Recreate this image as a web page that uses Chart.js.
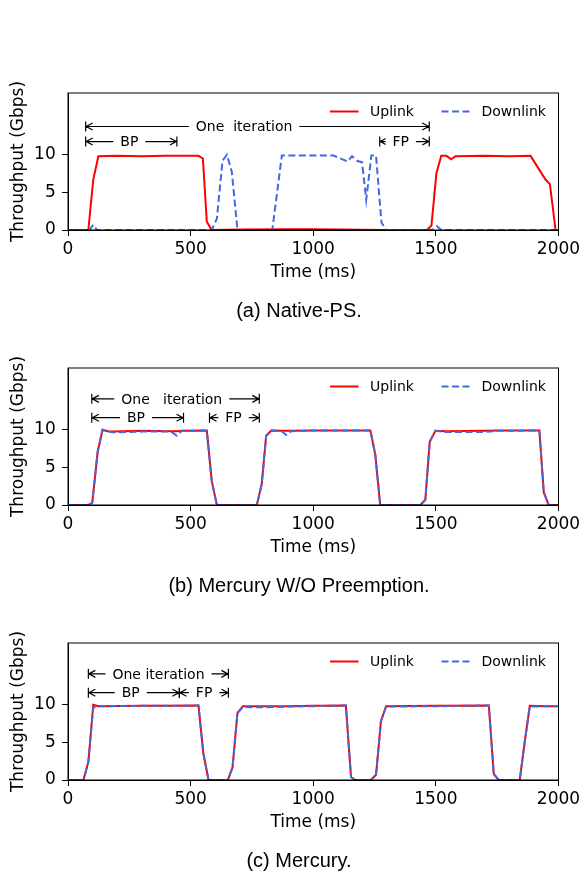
<!DOCTYPE html>
<html>
<head>
<meta charset="utf-8">
<script src="https://cdn.jsdelivr.net/npm/chart.js@4.4.1/dist/chart.umd.min.js"></script>
<style>
  body { margin: 0; background: #fff; width: 582px; height: 873px; position: relative; overflow: hidden; }
  canvas { position: absolute; left: 0; }
  .cap { position: absolute; left: 8px; width: 582px; text-align: center; font: 20px "Liberation Sans", Arial, sans-serif; color: #000; line-height: 24px; }
</style>
</head>
<body>
<canvas id="chartA" width="582" height="290" style="top:0px"></canvas>
<canvas id="chartB" width="582" height="290" style="top:275px"></canvas>
<canvas id="chartC" width="582" height="290" style="top:550px"></canvas>
<div class="cap" style="top:298px">(a) Native-PS.</div>
<div class="cap" style="top:573px">(b) Mercury W/O Preemption.</div>
<div class="cap" style="top:848px">(c) Mercury.</div>
<script>
// (a) Native-PS
const nativeUpT = [0, 83, 103, 124, 200, 300, 400, 532, 550, 566, 586, 700, 900, 1000, 1100, 1300, 1464, 1482, 1502, 1522, 1543, 1562, 1580, 1700, 1800, 1886, 1947, 1965, 1988, 2000];
const nativeUpV = [0, 0, 6.7, 9.8, 9.85, 9.8, 9.85, 9.85, 9.5, 1.1, 0, 0.05, 0.1, 0.1, 0.05, 0, 0, 0.6, 7.5, 9.85, 9.85, 9.4, 9.8, 9.85, 9.8, 9.85, 6.7, 6.1, 0, 0];
const nativeDownT = [0, 88, 103, 118, 586, 607, 630, 648, 668, 691, 833, 872, 950, 1083, 1140, 1158, 1178, 1199, 1216, 1237, 1256, 1278, 1298, 1485, 1505, 1522, 2000];
const nativeDownV = [0, 0, 0.7, 0, 0, 1.5, 9.2, 10, 7.7, 0, 0, 9.9, 9.9, 9.9, 9.1, 9.8, 9.2, 9.0, 4.0, 9.9, 9.9, 1.0, 0, 0, 0.5, 0, 0];

// (b) Mercury W/O Preemption
const noPreT = [0, 83, 99, 121, 141, 162, 182, 300, 420, 444, 464, 566, 586, 607, 770, 790, 808, 829, 870, 890, 910, 1000, 1233, 1253, 1273, 1437, 1457, 1475, 1498, 1540, 1700, 1750, 1922, 1940, 1960, 2000];
const noPreUp = [0, 0, 0.3, 7.1, 10, 9.8, 9.75, 9.85, 9.8, 9.8, 9.85, 9.9, 3.2, 0, 0, 2.8, 9.2, 9.9, 9.85, 9.85, 9.85, 9.9, 9.9, 6.7, 0, 0, 0.7, 8.4, 9.85, 9.8, 9.85, 9.9, 9.9, 1.7, 0, 0];
const noPreDown = [0, 0, 0.3, 7.1, 10, 9.8, 9.65, 9.75, 9.75, 9.2, 9.85, 9.9, 3.2, 0, 0, 2.8, 9.2, 9.9, 9.85, 9.3, 9.8, 9.9, 9.9, 6.7, 0, 0, 0.7, 8.4, 9.85, 9.7, 9.7, 9.85, 9.9, 1.7, 0, 0];

// (c) Mercury
const mercT = [0, 63, 83, 103, 124, 300, 400, 532, 552, 573, 652, 671, 691, 713, 800, 900, 1000, 1133, 1154, 1171, 1235, 1256, 1276, 1297, 1500, 1716, 1736, 1756, 1842, 1862, 1883, 1950, 2000];
const mercUp = [0, 0, 2.4, 10, 9.8, 9.85, 9.85, 9.9, 3.5, 0, 0, 1.7, 8.9, 9.8, 9.8, 9.8, 9.85, 9.9, 0.4, 0, 0, 0.7, 7.8, 9.8, 9.85, 9.9, 0.8, 0, 0, 5.0, 9.85, 9.8, 9.8];
const mercDown = [0, 0, 2.4, 9.6, 9.8, 9.85, 9.85, 9.9, 3.5, 0, 0, 1.7, 8.9, 9.7, 9.65, 9.75, 9.8, 9.9, 0.4, 0, 0, 0.7, 7.8, 9.75, 9.8, 9.9, 0.8, 0, 0, 5.0, 9.75, 9.8, 9.8];

const xTicks = [0, 500, 1000, 1500, 2000];
const yTicks = [0, 5, 10];

// arrows: from / to in ms, height in Gbps, label centre in ms
const notesA = [
  { from: 72, to: 1473, y: 13.75, text: 'One  iteration', at: 718 },
  { from: 72, to: 444, y: 11.75, text: 'BP', at: 250 },
  { from: 1271, to: 1473, y: 11.75, text: 'FP', at: 1357 }
];
const notesB = [
  { from: 97, to: 780, y: 14.1, text: 'One   iteration', at: 423 },
  { from: 97, to: 471, y: 11.6, text: 'BP', at: 277 },
  { from: 577, to: 780, y: 11.6, text: 'FP', at: 675 }
];
const notesC = [
  { from: 83, to: 654, y: 14.1, text: 'One iteration', at: 369 },
  { from: 83, to: 454, y: 11.6, text: 'BP', at: 256 },
  { from: 454, to: 654, y: 11.6, text: 'FP', at: 555 }
];

const FONT = '"DejaVu Sans", Verdana, sans-serif';

function pts(t, v) {
  return t.map((x, i) => ({ x: x, y: v[i] }));
}

// box around the plot
const frame = {
  id: 'frame',
  afterDraw(chart) {
    const { ctx, chartArea: a } = chart;
    ctx.save();
    ctx.strokeStyle = '#000';
    ctx.lineWidth = 1;
    ctx.strokeRect(a.left, a.top, a.right - a.left, a.bottom - a.top);
    ctx.restore();
  }
};

// legend drawn inside the plot, top right
const insideLegend = {
  id: 'insideLegend',
  afterDatasetsDraw(chart) {
    const { ctx, chartArea: a } = chart;
    const ly = a.top + 18.5;
    const starts = [a.right - 228.5, a.right - 117];
    ctx.save();
    ctx.font = '14px ' + FONT;
    ctx.textBaseline = 'middle';
    ctx.textAlign = 'left';
    chart.data.datasets.forEach((ds, i) => {
      const x0 = starts[i];
      ctx.strokeStyle = ds.borderColor;
      ctx.lineWidth = ds.borderWidth;
      ctx.setLineDash(ds.borderDash || []);
      ctx.beginPath();
      ctx.moveTo(x0, ly);
      ctx.lineTo(x0 + 28.5, ly);
      ctx.stroke();
      ctx.setLineDash([]);
      ctx.fillStyle = '#000';
      ctx.fillText(ds.label, x0 + 40, ly + 1);
    });
    ctx.restore();
  }
};

// |<-->| arrows with a label
const arrows = {
  id: 'arrows',
  afterDatasetsDraw(chart, args, opts) {
    const { ctx } = chart;
    const x = chart.scales.x, y = chart.scales.y;
    ctx.save();
    ctx.font = '14px ' + FONT;
    (opts.items || []).forEach(it => {
      const x0 = x.getPixelForValue(it.from);
      const x1 = x.getPixelForValue(it.to);
      const py = y.getPixelForValue(it.y);
      ctx.strokeStyle = '#000';
      ctx.lineWidth = 1.2;
      ctx.beginPath();
      ctx.moveTo(x0, py); ctx.lineTo(x1, py);
      ctx.moveTo(x0, py - 5); ctx.lineTo(x0, py + 5);
      ctx.moveTo(x1, py - 5); ctx.lineTo(x1, py + 5);
      ctx.moveTo(x0 + 7, py - 3.5); ctx.lineTo(x0 + 0.5, py); ctx.lineTo(x0 + 7, py + 3.5);
      ctx.moveTo(x1 - 7, py - 3.5); ctx.lineTo(x1 - 0.5, py); ctx.lineTo(x1 - 7, py + 3.5);
      ctx.stroke();
      const tx = x.getPixelForValue(it.at);
      const w = ctx.measureText(it.text).width;
      ctx.fillStyle = '#fff';
      ctx.fillRect(tx - w / 2 - 7, py - 8, w + 14, 16);
      ctx.fillStyle = '#000';
      ctx.textAlign = 'center';
      ctx.textBaseline = 'middle';
      ctx.fillText(it.text, tx, py + 1);
    });
    ctx.restore();
  }
};

function makeChart(id, up, down, notes) {
  const tickFont = { family: FONT, size: 17 };
  return new Chart(document.getElementById(id), {
    type: 'line',
    data: {
      datasets: [
        { label: 'Uplink', data: up, borderColor: '#ff0000', borderWidth: 2, pointRadius: 0, tension: 0, order: 1 },
        { label: 'Downlink', data: down, borderColor: '#4169e1', borderWidth: 2, borderDash: [7, 3.5], pointRadius: 0, tension: 0, order: 0 }
      ]
    },
    options: {
      responsive: false,
      animation: false,
      events: [],
      layout: { padding: { top: 93, right: 23.5, left: 0, bottom: 0 } },
      plugins: {
        legend: { display: false },
        tooltip: { enabled: false },
        arrows: { items: notes }
      },
      scales: {
        x: {
          type: 'linear', min: 0, max: 2000,
          afterBuildTicks: s => { s.ticks = xTicks.map(v => ({ value: v })); },
          afterFit: s => { s.height = 60; s.paddingLeft = 0; s.paddingRight = 0; },
          ticks: { font: tickFont, color: '#000', padding: 3.3, maxRotation: 0, callback: v => String(v) },
          grid: { drawOnChartArea: false, tickLength: 6, color: '#000' },
          border: { color: '#000' },
          title: { display: true, text: 'Time (ms)', font: tickFont, color: '#000', padding: { top: 0, bottom: 7.3 } }
        },
        y: {
          min: 0, max: 18.2,
          afterBuildTicks: s => { s.ticks = yTicks.map(v => ({ value: v })); },
          afterFit: s => { s.width = 68; },
          ticks: { font: tickFont, color: '#000', padding: 6.3, callback: v => String(v) },
          grid: { drawOnChartArea: false, tickLength: 6, color: '#000' },
          border: { color: '#000' },
          title: { display: true, text: 'Throughput (Gbps)', font: tickFont, color: '#000', padding: { top: 8, bottom: 0 } }
        }
      }
    },
    plugins: [frame, insideLegend, arrows]
  });
}

makeChart('chartA', pts(nativeUpT, nativeUpV), pts(nativeDownT, nativeDownV), notesA);
makeChart('chartB', pts(noPreT, noPreUp), pts(noPreT, noPreDown), notesB);
makeChart('chartC', pts(mercT, mercUp), pts(mercT, mercDown), notesC);
</script>
</body>
</html>
